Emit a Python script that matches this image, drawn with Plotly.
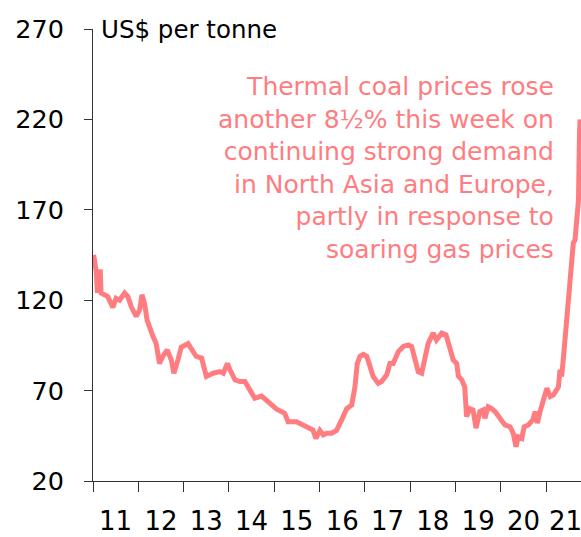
import plotly.graph_objects as go

# Thermal coal spot price, US$ per tonne
dates = [
    "2011-01-06", "2011-01-27", "2011-02-06", "2011-02-28", "2011-03-07", "2011-04-04",
    "2011-04-30", "2011-06-10", "2011-07-06", "2011-08-03", "2011-09-13", "2011-10-09",
    "2011-11-05", "2011-12-15", "2012-01-12", "2012-01-31", "2012-02-21", "2012-03-12",
    "2012-04-01", "2012-04-28", "2012-05-24", "2012-06-20", "2012-07-17", "2012-08-21",
    "2012-09-23", "2012-10-14", "2012-11-16", "2012-12-12", "2013-02-05", "2013-03-15",
    "2013-04-11", "2013-05-25", "2013-07-03", "2013-08-27", "2013-10-20", "2013-11-16",
    "2013-12-19", "2014-01-09", "2014-02-18", "2014-03-29", "2014-05-09", "2014-06-18",
    "2014-07-28", "2014-09-21", "2014-11-28", "2015-01-20", "2015-03-26", "2015-04-22",
    "2015-06-29", "2015-08-21", "2015-09-30", "2015-11-09", "2015-12-02", "2016-01-04",
    "2016-01-31", "2016-02-27", "2016-04-07", "2016-05-17", "2016-06-27", "2016-08-07",
    "2016-09-16", "2016-10-12", "2016-10-31", "2016-11-22", "2016-12-19", "2017-01-15",
    "2017-02-12", "2017-03-08", "2017-04-18", "2017-05-15", "2017-06-25", "2017-07-21",
    "2017-08-16", "2017-09-27", "2017-11-06", "2017-12-16", "2018-01-12", "2018-02-09",
    "2018-03-06", "2018-04-03", "2018-04-29", "2018-05-25", "2018-07-04", "2018-07-31",
    "2018-09-12", "2018-10-16", "2018-11-18", "2018-12-13", "2019-01-10", "2019-01-24",
    "2019-02-20", "2019-03-16", "2019-03-31", "2019-04-27", "2019-05-22", "2019-06-15",
    "2019-07-16", "2019-08-12", "2019-08-25", "2019-09-21", "2019-10-19", "2019-11-15",
    "2019-12-25", "2020-02-03", "2020-03-15", "2020-04-10", "2020-05-02", "2020-05-21",
    "2020-06-18", "2020-07-07", "2020-08-10", "2020-09-15", "2020-10-03", "2020-10-21",
    "2020-11-12", "2020-12-04", "2020-12-22", "2021-01-06", "2021-02-02", "2021-02-28",
    "2021-03-25", "2021-04-09", "2021-04-22", "2021-05-05", "2021-05-18", "2021-06-01",
    "2021-06-15", "2021-06-28", "2021-07-11", "2021-07-25", "2021-08-07", "2021-08-21",
    "2021-09-04", "2021-09-18", "2021-09-26", "2021-10-01",
]
prices = [
    145, 136, 124, 137, 124, 123,
    122, 116, 121, 120, 124, 122,
    116.5, 111, 114.7, 123, 118, 109,
    104.5, 100, 96, 85, 89, 92.5,
    87, 79.6, 87, 94, 96, 92.5,
    89, 88, 77.8, 79.6, 80.5, 79.6,
    85, 81.5, 76, 75, 75, 70.4,
    65.8, 67, 63, 59.7, 57.5, 52.8,
    52.8, 51, 49.2, 48.2, 43.6, 48,
    45.5, 46.4, 46.4, 48, 53.8, 60,
    62, 72, 85, 89, 90, 89,
    83, 77.8, 74, 75, 78.7, 85,
    85, 91.6, 94.4, 95.3, 94.4, 86,
    80.5, 79.6, 89, 96, 101.8, 98,
    101.8, 100.8, 93, 87, 85, 78,
    76, 72, 55.6, 60, 59.3, 49.2,
    58.4, 59.3, 54.7, 61, 60, 58.4,
    54.7, 51, 50, 46.4, 39, 44.5,
    43.6, 50, 51, 53.8, 58.4, 52,
    58.4, 64, 68.6, 71.3, 66.7, 67.6,
    70.4, 72, 81.5, 77.8, 87, 98,
    111, 120, 131, 142, 151.6, 153.4,
    170, 175.6, 212.5, 220,
]

# Year boundaries (tick marks) and year labels centred on each year;
# the final, partial year is labelled a little earlier so it stays in frame
year_starts = [f"{y}-01-01" for y in range(2011, 2022)]
year_label_dates = [f"{y}-07-02" for y in range(2011, 2021)] + ["2021-06-05"]
year_labels = ["11", "12", "13", "14", "15", "16", "17", "18", "19", "20", "21"]

y_ticks = [20, 70, 120, 170, 220, 270]

X_RANGE = ["2011-01-01", "2021-10-08"]
LINE_COLOUR = "#FF7C80"
AXIS_COLOUR = "#333333"
FONT = "DejaVu Sans"

fig = go.Figure(
    go.Scatter(
        x=dates,
        y=prices,
        mode="lines",
        line=dict(color=LINE_COLOUR, width=5),
        hoverinfo="skip",
    )
)

fig.update_layout(
    width=581,
    height=537,
    margin=dict(l=93, r=0, t=29, b=56),
    paper_bgcolor="white",
    plot_bgcolor="white",
    showlegend=False,
    font=dict(family=FONT, color="black", size=26),
    # labels sit mid-year on the main x axis
    xaxis=dict(
        type="date",
        range=X_RANGE,
        tickvals=year_label_dates,
        ticktext=year_labels,
        ticks="",
        showline=True,
        linecolor=AXIS_COLOUR,
        linewidth=1,
        showgrid=False,
        zeroline=False,
        tickfont=dict(size=26),
        ticklabelstandoff=17,
        ticklabeloverflow="allow",
    ),
    # tick marks at each year boundary, no labels
    xaxis2=dict(
        type="date",
        range=X_RANGE,
        overlaying="x",
        anchor="y",
        side="bottom",
        tickvals=year_starts,
        ticks="outside",
        ticklen=10,
        tickcolor=AXIS_COLOUR,
        showticklabels=False,
        showline=False,
        showgrid=False,
        zeroline=False,
    ),
    yaxis=dict(
        range=[20, 270],
        tickvals=y_ticks,
        ticks="outside",
        ticklen=8,
        tickcolor=AXIS_COLOUR,
        showline=True,
        linecolor=AXIS_COLOUR,
        linewidth=1,
        showgrid=False,
        zeroline=False,
        tickfont=dict(size=25.5),
        ticklabelstandoff=15,
    ),
)

# invisible trace to bring the boundary-tick axis into the figure
fig.add_trace(
    go.Scatter(x=[X_RANGE[0]], y=[20], xaxis="x2", mode="markers",
               marker=dict(opacity=0), hoverinfo="skip")
)

fig.add_annotation(
    text="US$ per tonne",
    xref="paper", yref="paper",
    x=0.012, y=1.0,
    xanchor="left", yanchor="middle",
    showarrow=False,
    font=dict(size=24.5, color="black"),
)

fig.add_annotation(
    text=("Thermal coal prices rose<br>another 8½% this week on<br>"
          "continuing strong demand<br>in North Asia and Europe,<br>"
          "partly in response to<br>soaring gas prices"),
    xref="paper", yref="paper",
    x=0.949, y=0.6925,
    xanchor="right", yanchor="middle",
    align="right",
    showarrow=False,
    font=dict(size=25, color=LINE_COLOUR),
)

fig.write_html("out.html")
